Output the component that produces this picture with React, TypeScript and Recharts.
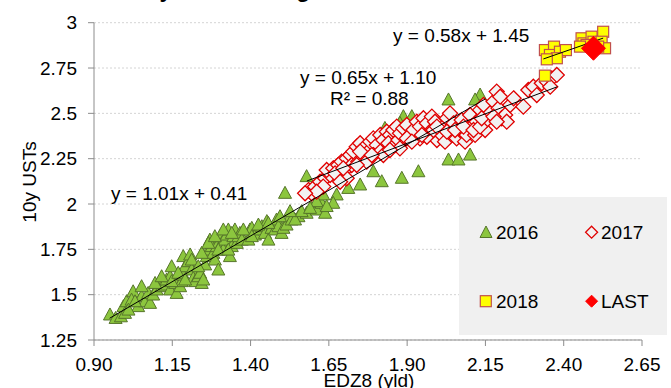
import React from 'react';
import { ScatterChart, Scatter, XAxis, YAxis, CartesianGrid } from 'recharts';

const xTicks = [0.9, 1.15, 1.4, 1.65, 1.9, 2.15, 2.4, 2.65];
const yTicks = [1.25, 1.5, 1.75, 2, 2.25, 2.5, 2.75, 3];

const pts2016: [number, number][] = [
  [0.951, 1.388], [0.969, 1.369], [0.986, 1.378], [0.994, 1.434], [1.004, 1.461], [1.025, 1.516], [1.02, 1.47], [1.041, 1.434],
  [1.052, 1.489], [1.063, 1.461], [1.079, 1.452], [1.073, 1.507], [1.089, 1.498], [1.1, 1.526], [1.111, 1.572], [1.116, 1.544],
  [1.127, 1.553], [1.132, 1.581], [1.143, 1.599], [1.148, 1.654], [1.143, 1.526], [1.159, 1.562], [1.164, 1.507], [1.175, 1.544],
  [1.18, 1.572], [1.185, 1.608], [1.191, 1.654], [1.185, 1.71], [1.201, 1.682], [1.207, 1.719], [1.212, 1.636], [1.217, 1.59],
  [1.223, 1.572], [1.233, 1.599], [1.239, 1.618], [1.244, 1.562], [1.249, 1.581], [1.255, 1.664], [1.26, 1.71], [1.265, 1.746],
  [1.27, 1.801], [1.276, 1.765], [1.281, 1.728], [1.286, 1.691], [1.292, 1.765], [1.297, 1.636], [1.302, 1.82], [1.308, 1.783],
  [1.313, 1.746], [1.318, 1.801], [1.324, 1.829], [1.329, 1.857], [1.334, 1.71], [1.34, 1.765], [1.345, 1.82], [1.35, 1.857],
  [1.356, 1.783], [1.361, 1.82], [1.366, 1.838], [1.372, 1.801], [1.393, 1.801], [1.398, 1.857], [1.404, 1.866], [1.414, 1.829],
  [1.425, 1.857], [1.436, 1.875], [1.446, 1.838], [1.452, 1.903], [1.457, 1.801], [1.467, 1.866], [1.478, 1.857], [1.483, 1.912],
  [1.489, 1.875], [1.499, 1.838], [1.505, 1.866], [1.515, 1.884], [1.526, 1.93], [1.531, 1.912], [1.553, 1.93], [1.51, 2.059],
  [1.579, 1.949], [1.595, 1.976], [1.611, 1.967], [1.627, 2.004], [1.638, 1.949], [1.579, 2.151],
  [0.999, 1.397], [1.01, 1.415], [1.031, 1.461], [1.052, 1.544], [1.095, 1.562], [1.116, 1.599], [1.148, 1.572], [1.169, 1.618],
  [1.191, 1.581], [1.212, 1.691], [1.233, 1.654], [1.244, 1.728], [1.265, 1.783], [1.286, 1.82], [1.297, 1.746], [1.313, 1.857],
  [1.329, 1.746], [1.34, 1.838], [1.377, 1.857], [1.404, 1.82], [1.425, 1.884], [1.457, 1.893], [1.494, 1.93], [1.542, 1.912],
  [1.563, 1.958],
  [2.032, 2.574], [1.888, 2.482], [1.915, 2.482], [1.877, 2.445], [1.829, 2.417], [2.133, 2.601], [2.117, 2.574], [2.032, 2.243],
  [2.064, 2.243], [2.101, 2.27], [1.792, 2.178], [1.819, 2.123], [1.883, 2.142], [1.936, 2.178], [1.75, 2.105], [1.712, 2.086],
  [1.675, 2.05], [1.632, 2.05], [1.611, 2.013], [1.59, 1.976], [1.664, 2.004], [1.643, 1.986], [1.526, 1.958],
];

const pts2017: [number, number][] = [
  [1.585, 2.077], [1.595, 2.059], [1.606, 2.096], [1.622, 2.123], [1.638, 2.142], [1.654, 2.16], [1.643, 2.188], [1.664, 2.197],
  [1.68, 2.215], [1.691, 2.234], [1.67, 2.169], [1.702, 2.188], [1.707, 2.252], [1.718, 2.27], [1.728, 2.289], [1.739, 2.316],
  [1.75, 2.335], [1.76, 2.307], [1.723, 2.215], [1.744, 2.234], [1.766, 2.27], [1.776, 2.289], [1.782, 2.344], [1.792, 2.362],
  [1.803, 2.325], [1.814, 2.381], [1.824, 2.353], [1.835, 2.399], [1.845, 2.381], [1.856, 2.408], [1.84, 2.335], [1.861, 2.325],
  [1.872, 2.353], [1.867, 2.427], [1.877, 2.39], [1.888, 2.417], [1.899, 2.436], [1.909, 2.381], [1.92, 2.408], [1.931, 2.454],
  [1.941, 2.427], [1.952, 2.473], [1.963, 2.445], [1.973, 2.399], [1.979, 2.482], [1.989, 2.454], [1.995, 2.353], [2.005, 2.39],
  [2.016, 2.427], [2.021, 2.344], [2.027, 2.473], [2.037, 2.5], [2.042, 2.381], [2.048, 2.445], [2.058, 2.362], [2.069, 2.408],
  [2.074, 2.463], [2.085, 2.344], [2.09, 2.381], [2.101, 2.491], [2.106, 2.427], [2.117, 2.381], [2.122, 2.454], [2.133, 2.519],
  [2.144, 2.546], [2.149, 2.408], [2.154, 2.463], [2.165, 2.5], [2.176, 2.565], [2.186, 2.62], [2.192, 2.528], [2.197, 2.592],
  [2.202, 2.473], [2.213, 2.491], [2.218, 2.454], [2.229, 2.546], [2.24, 2.583], [2.271, 2.537], [2.287, 2.629], [2.303, 2.647],
  [2.314, 2.601], [2.33, 2.666], [2.346, 2.675], [2.362, 2.693], [2.378, 2.712], [2.357, 2.647], [1.75, 2.289], [1.771, 2.234],
  [1.792, 2.27], [1.814, 2.289], [1.824, 2.27], [1.707, 2.142], [1.686, 2.123], [1.632, 2.096], [1.611, 2.068], [1.574, 2.059],
  [1.941, 2.362], [1.963, 2.371], [1.984, 2.408], [1.947, 2.381], [1.899, 2.362], [1.915, 2.344], [2.027, 2.399], [2.053, 2.408],
  [2.08, 2.427], [2.112, 2.408], [2.133, 2.427], [2.138, 2.473], [2.176, 2.482], [2.186, 2.454], [1.995, 2.427], [1.877, 2.307],
  [1.845, 2.298], [1.787, 2.27], [1.739, 2.215], [1.696, 2.197],
];

const pts2018: [number, number][] = [
  [2.34, 2.849], [2.369, 2.868], [2.356, 2.822], [2.388, 2.84], [2.407, 2.849], [2.378, 2.804], [2.346, 2.798],
  [2.457, 2.914], [2.463, 2.886], [2.489, 2.923], [2.495, 2.895], [2.526, 2.95], [2.521, 2.895], [2.473, 2.877],
  [2.532, 2.859], [2.452, 2.868], [2.51, 2.868], [2.34, 2.708],
];

const ptsLast: [number, number][] = [[2.495, 2.859]];

const trend2016: [number, number][] = [[0.95, 1.37], [2.15, 2.58]];
const trend2017: [number, number][] = [[1.58, 2.127], [2.38, 2.647]];
const trend2018: [number, number][] = [[2.335, 2.8], [2.526, 2.915]];

const legendLabels = ['2016', '2017', '2018', 'LAST'];
const eqLabels = ['y = 1.01x + 0.41', 'y = 0.65x + 1.10', 'R² = 0.88', 'y = 0.58x + 1.45'];
const titleText = '10y vs EDZ8 high correlation';
const xTitle = 'EDZ8 (yld)';
const yTitle = '10y USTs';

const toObj = (a: [number, number][]) => a.map(([x, y]) => ({ x, y }));

const FONT = '"Liberation Sans", Arial, sans-serif';

const triPts = (cx: number, cy: number) => `${cx},${cy - 7} ${cx + 6.5},${cy + 5} ${cx - 6.5},${cy + 5}`;
const diaPts = (cx: number, cy: number, r: number) => `${cx},${cy - r} ${cx + r},${cy} ${cx},${cy + r} ${cx - r},${cy}`;

const Tri = (p: any) =>
  p.cx == null ? <g /> : <polygon points={triPts(p.cx, p.cy)} fill="#8CC63E" stroke="#56752A" strokeWidth={1} />;
const Dia = (p: any) =>
  p.cx == null ? <g /> : <polygon points={diaPts(p.cx, p.cy, 7.5)} fill="#F2F2F2" stroke="#E00000" strokeWidth={1.3} />;
const Sq = (p: any) =>
  p.cx == null ? <g /> : <rect x={p.cx - 5.5} y={p.cy - 5.5} width={11} height={11} fill="#FFFF00" stroke="#C0504D" strokeWidth={1.2} />;
const Last = (p: any) =>
  p.cx == null ? <g /> : <polygon points={diaPts(p.cx, p.cy, 12)} fill="#FF0000" stroke="#FF0000" strokeWidth={1} />;
const NoDot = () => <g />;

export default function App() {
  const tick = { fill: '#000', fontSize: 19, fontFamily: FONT };
  return (
    <div style={{ position: 'absolute', left: 0, top: 0, width: 671, height: 388, background: '#fff', overflow: 'hidden' }}>
      <ScatterChart width={671} height={388} margin={{ top: 22.7, right: 29, bottom: 0, left: 0 }}>
        <CartesianGrid vertical={false} stroke="#D4D4D4" strokeDasharray="2 2" />
        <XAxis
          type="number"
          dataKey="x"
          domain={[0.9, 2.65]}
          ticks={xTicks}
          interval={0}
          allowDataOverflow
          height={48}
          tickSize={6}
          tickMargin={12}
          tick={tick}
          stroke="#8C8C8C"
          tickFormatter={(v: number) => v.toFixed(2)}
        />
        <YAxis
          type="number"
          dataKey="y"
          domain={[1.25, 3]}
          ticks={yTicks}
          interval={0}
          allowDataOverflow
          width={94}
          tickSize={6}
          tickMargin={11}
          tick={tick}
          stroke="#8C8C8C"
          tickFormatter={(v: number) => String(v)}
        />
        <Scatter data={toObj(pts2016)} shape={Tri} isAnimationActive={false} />
        <Scatter data={toObj(pts2017)} shape={Dia} isAnimationActive={false} />
        <Scatter data={toObj(pts2018)} shape={Sq} isAnimationActive={false} />
        <Scatter data={toObj(trend2016)} shape={NoDot} line={{ stroke: '#000', strokeWidth: 1 }} isAnimationActive={false} />
        <Scatter data={toObj(trend2017)} shape={NoDot} line={{ stroke: '#000', strokeWidth: 1 }} isAnimationActive={false} />
        <Scatter data={toObj(trend2018)} shape={NoDot} line={{ stroke: '#000', strokeWidth: 1 }} isAnimationActive={false} />
        <Scatter data={toObj(ptsLast)} shape={Last} isAnimationActive={false} />
      </ScatterChart>
      <svg
        width={671}
        height={388}
        style={{ position: 'absolute', left: 0, top: 0, pointerEvents: 'none', overflow: 'hidden' }}
        fontFamily={FONT}
      >
        <text x={134} y={-3} fontSize={23} fontWeight="bold" fill="#000">{titleText}</text>
        <text transform="translate(36,182) rotate(-90)" textAnchor="middle" fontSize={19} fill="#000">{yTitle}</text>
        <text x={369} y={387} textAnchor="middle" fontSize={19} fill="#000">{xTitle}</text>
        <text x={111} y={200} fontSize={19} fill="#000">{eqLabels[0]}</text>
        <text x={300} y={84} fontSize={19} fill="#000">{eqLabels[1]}</text>
        <text x={330} y={105} fontSize={19} fill="#000">{eqLabels[2]}</text>
        <text x={393} y={42} fontSize={19} fill="#000">{eqLabels[3]}</text>
        <rect x={459} y={197} width={208} height={138} fill="#F0F0F0" />
        <polygon points={`486,226 492,237.5 480,237.5`} fill="#8CC63E" stroke="#56752A" strokeWidth={1} />
        <text x={496} y={239} fontSize={19} fill="#000">{legendLabels[0]}</text>
        <polygon points={diaPts(591.6, 232.2, 6)} fill="#F2F2F2" stroke="#E00000" strokeWidth={1.3} />
        <text x={601} y={239} fontSize={19} fill="#000">{legendLabels[1]}</text>
        <rect x={480.3} y={295.7} width={11} height={11} fill="#FFFF00" stroke="#C0504D" strokeWidth={1.2} />
        <text x={496} y={308} fontSize={19} fill="#000">{legendLabels[2]}</text>
        <polygon points={diaPts(591.6, 301.2, 6)} fill="#FF0000" stroke="#FF0000" strokeWidth={1} />
        <text x={601} y={308} fontSize={19} fill="#000">{legendLabels[3]}</text>
      </svg>
    </div>
  );
}
